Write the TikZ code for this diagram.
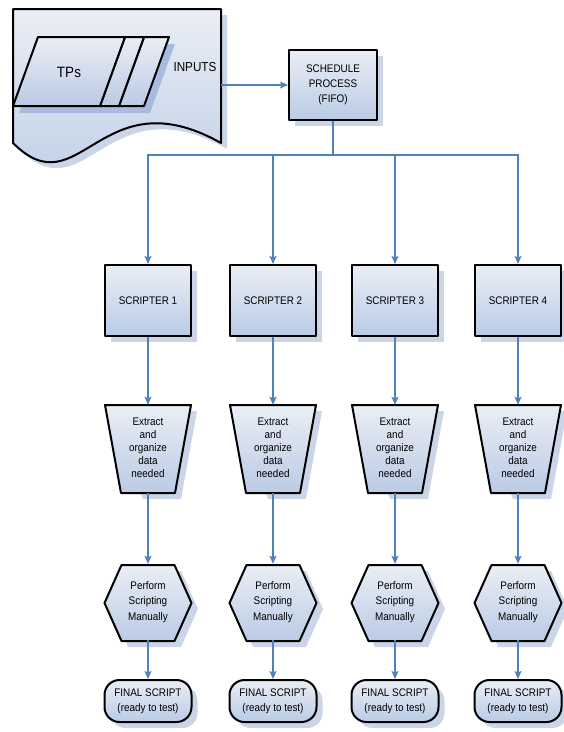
\documentclass[tikz,border=0pt]{standalone}
\usepackage{fontspec}
\setmainfont{Liberation Sans}[FakeStretch=0.9]
\usetikzlibrary{arrows.meta,calc,shadows}
\definecolor{lnk}{RGB}{79,129,189}
\definecolor{fillA}{RGB}{234,238,245}
\definecolor{fillB}{RGB}{186,203,229}
\definecolor{shd}{RGB}{203,213,232}
\definecolor{shdin}{RGB}{168,188,224}
\begin{document}
\begin{tikzpicture}[x=1pt,y=-1pt,
  shp/.style={draw=black,line width=2pt,top color=fillA,bottom color=fillB,line join=round},
  shdw/.style={fill=shd},
  box/.style={shp,inner sep=0pt,align=center,font=\fontsize{11}{14}\selectfont,
    drop shadow={shadow xshift=6pt,shadow yshift=-6pt,fill=shd,opacity=1}},
  lbl/.style={inner sep=0pt,align=center},
  arr/.style={draw=lnk,line width=1.3pt,-{Stealth[length=8pt,width=7pt,inset=1.5pt]}},
  lnkline/.style={draw=lnk,line width=1.3pt}]
\useasboundingbox (0,0) rectangle (564,732);
% document shape (inputs)
\fill[shd] (19,15) -- (227,15) -- (227,149) .. controls (106,81) and (86,216) .. (19,149) -- cycle;
\draw[shp] (13,9) -- (221,9) -- (221,143) .. controls (100,75) and (80,210) .. (13,143) -- cycle;
% stacked parallelograms
\fill[shdin] (44,44) -- (175,44) -- (150,113) -- (19,113) -- cycle;
\draw[shp] (144,37) -- (169,37) -- (144,106) -- (119,106) -- cycle;
\draw[shp] (125,37) -- (144,37) -- (119,106) -- (100,106) -- cycle;
\draw[shp] (38,37) -- (125,37) -- (100,106) -- (13,106) -- cycle;
\node[lbl,font=\fontsize{15}{18}\selectfont] (tps) at (69,72) {TPs};
\node[lbl,font=\fontsize{13}{16}\selectfont] (inputs) at (195,67) {INPUTS};
\coordinate (docR) at (221,85);
% schedule
\node[box,minimum width=88,minimum height=70,font=\fontsize{11}{15}\selectfont] (sched) at (333,85) {SCHEDULE\\PROCESS\\(FIFO)};
\draw[arr] (docR) -- (sched.west);
\foreach \i/\x in {1/148,2/273,3/395,4/518}{
  \node[box,minimum width=86,minimum height=71] (s\i) at (\x,300.5) {SCRIPTER \i};
  \draw[arr] (sched.south) -- ++(0,34) -| (s\i.north);
  % trapezoid
  \fill[shd] (\x-37,411) -- (\x+49,411) -- (\x+33,499) -- (\x-5,499) -- cycle;
  \draw[shp] (\x-43,405) -- (\x+43,405) -- (\x+27,493) -- (\x-27,493) -- cycle;
  \node[lbl,minimum width=86,minimum height=88,font=\fontsize{11}{13}\selectfont] (t\i) at (\x,449) {\raisebox{3pt}{\begin{tabular}{@{}c@{}}Extract\\and\\organize\\data\\needed\end{tabular}}};
  % hexagon
  \fill[shd] (\x-37,609) -- (\x-20,571) -- (\x+33,571) -- (\x+50,609) -- (\x+33,647) -- (\x-20,647) -- cycle;
  \draw[shp] (\x-43.5,603) -- (\x-26.5,565) -- (\x+26.5,565) -- (\x+43.5,603) -- (\x+26.5,641) -- (\x-26.5,641) -- cycle;
  \node[lbl,minimum width=87,minimum height=76,font=\fontsize{11}{15.5}\selectfont] (h\i) at (\x,602) {Perform\\Scripting\\Manually};
  % final
  \node[box,rounded corners=15pt,minimum width=87,minimum height=42,font=\fontsize{11}{15}\selectfont] (f\i) at (\x,701) {FINAL SCRIPT\\(ready to test)};
  \draw[arr] (s\i) -- (t\i);
  \draw[arr] (t\i) -- (h\i);
  \draw[arr] (h\i) -- (f\i);
}
\end{tikzpicture}
\end{document}
